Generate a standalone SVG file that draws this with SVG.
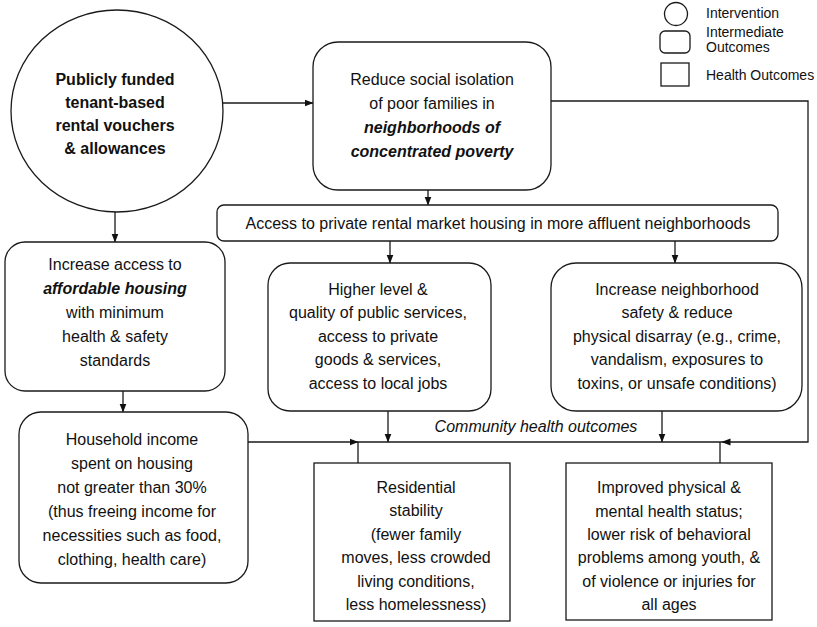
<svg xmlns="http://www.w3.org/2000/svg" width="817" height="627" viewBox="0 0 817 627">
<defs>
<style>
.n{fill:#fff;stroke:#1a1a1a;stroke-width:1.3}
.c{fill:none;stroke:#1a1a1a;stroke-width:1.3}
text{font-family:"Liberation Sans",Arial,sans-serif;font-size:16px;fill:#111;text-anchor:middle}
.b{font-weight:bold}
.bi{font-weight:bold;font-style:italic}
.i{font-style:italic}
.lg{font-size:14px;text-anchor:start}
</style>
<marker id="ah" markerWidth="9" markerHeight="8" refX="8.5" refY="4" orient="auto" markerUnits="userSpaceOnUse">
<path d="M0,0.5 L9,4 L0,7.5 Z" fill="#111"/>
</marker>
</defs>
<rect width="817" height="627" fill="#fff"/>

<g id="legend">
<circle class="n" cx="676" cy="14" r="11.5"/>
<rect class="n" x="660" y="31" width="30" height="22" rx="5"/>
<rect class="n" x="661" y="63" width="28" height="23"/>
<text class="lg" x="706" y="18">Intervention</text>
<text class="lg" x="706" y="37">Intermediate</text>
<text class="lg" x="706" y="52">Outcomes</text>
<text class="lg" x="706" y="80">Health Outcomes</text>
</g>

<g id="connectors">
<line class="c" x1="223" y1="103" x2="313" y2="103" marker-end="url(#ah)"/>
<line class="c" x1="115" y1="212" x2="115" y2="242" marker-end="url(#ah)"/>
<line class="c" x1="428" y1="190" x2="428" y2="205" marker-end="url(#ah)"/>
<line class="c" x1="390" y1="241" x2="390" y2="263" marker-end="url(#ah)"/>
<line class="c" x1="675" y1="241" x2="675" y2="263" marker-end="url(#ah)"/>
<line class="c" x1="123" y1="391" x2="123" y2="412" marker-end="url(#ah)"/>
<line class="c" x1="248" y1="442" x2="358" y2="442" marker-end="url(#ah)"/>
<line class="c" x1="358" y1="442" x2="722" y2="442"/>
<line class="c" x1="388" y1="411" x2="388" y2="442" marker-end="url(#ah)"/>
<line class="c" x1="662" y1="411" x2="662" y2="442" marker-end="url(#ah)"/>
<line class="c" x1="358" y1="442" x2="358" y2="463"/>
<line class="c" x1="720" y1="442" x2="720" y2="463"/>
<polyline class="c" points="551,101 808,101 808,442 722,442" marker-end="url(#ah)"/>
<text class="i" x="536" y="432">Community health outcomes</text>
</g>

<g id="intervention">
<ellipse class="n" cx="117" cy="111" rx="106" ry="101"/>
<text class="b" x="115" y="85">Publicly funded</text>
<text class="b" x="115" y="108">tenant-based</text>
<text class="b" x="115" y="131">rental vouchers</text>
<text class="b" x="115" y="154">&amp; allowances</text>
</g>

<g id="reduce-isolation">
<rect class="n" x="313" y="42" width="238" height="148" rx="25"/>
<text x="432" y="85">Reduce social isolation</text>
<text x="432" y="109">of poor families in</text>
<text class="bi" x="432" y="133">neighborhoods of</text>
<text class="bi" x="432" y="157">concentrated poverty</text>
</g>

<g id="access-private">
<rect class="n" x="217" y="205" width="561" height="36" rx="7"/>
<text x="498" y="229">Access to private rental market housing in more affluent neighborhoods</text>
</g>

<g id="affordable">
<rect class="n" x="5" y="242" width="220" height="149" rx="20"/>
<text x="115" y="270">Increase access to</text>
<text class="bi" x="115" y="294">affordable housing</text>
<text x="115" y="318">with minimum</text>
<text x="115" y="342">health &amp; safety</text>
<text x="115" y="366">standards</text>
</g>

<g id="household-income">
<rect class="n" x="19" y="412" width="229" height="171" rx="22"/>
<text x="132" y="445">Household income</text>
<text x="132" y="469">spent on housing</text>
<text x="132" y="493">not greater than 30%</text>
<text x="132" y="517">(thus freeing income for</text>
<text x="132" y="541">necessities such as food,</text>
<text x="132" y="565">clothing, health care)</text>
</g>

<g id="public-services">
<rect class="n" x="268" y="263" width="223" height="148" rx="22"/>
<text x="378" y="295">Higher level &amp;</text>
<text x="378" y="318">quality of public services,</text>
<text x="378" y="342">access to private</text>
<text x="378" y="365">goods &amp; services,</text>
<text x="378" y="389">access to local jobs</text>
</g>

<g id="neighborhood-safety">
<rect class="n" x="551" y="263" width="251" height="148" rx="25"/>
<text x="677" y="295">Increase neighborhood</text>
<text x="677" y="318">safety &amp; reduce</text>
<text x="677" y="342">physical disarray (e.g., crime,</text>
<text x="677" y="365">vandalism, exposures to</text>
<text x="677" y="389">toxins, or unsafe conditions)</text>
</g>

<g id="residential-stability">
<rect class="n" x="314" y="463" width="196" height="158"/>
<text x="416" y="493">Residential</text>
<text x="416" y="516">stability</text>
<text x="416" y="540">(fewer family</text>
<text x="416" y="563">moves, less crowded</text>
<text x="416" y="587">living conditions,</text>
<text x="416" y="610">less homelessness)</text>
</g>

<g id="health-status">
<rect class="n" x="566" y="463" width="206" height="157"/>
<text x="669" y="493">Improved physical &amp;</text>
<text x="669" y="517">mental health status;</text>
<text x="669" y="540">lower risk of behavioral</text>
<text x="669" y="563">problems among youth, &amp;</text>
<text x="669" y="587">of violence or injuries for</text>
<text x="669" y="610">all ages</text>
</g>
</svg>
